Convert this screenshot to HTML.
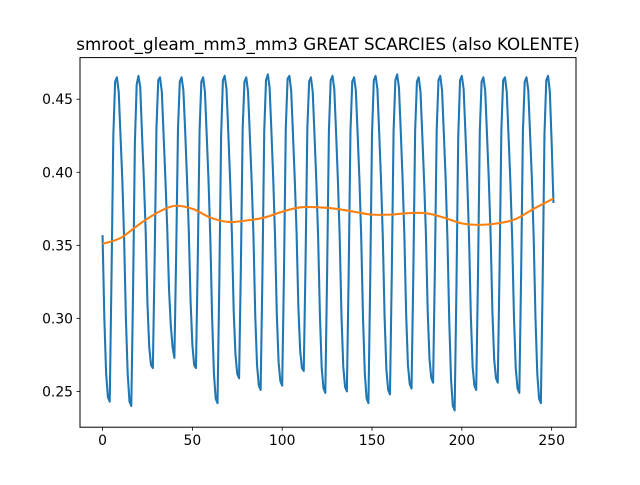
<!DOCTYPE html>
<html><head><meta charset="utf-8"><style>
body{margin:0;background:#fff;}
svg text{font-family:"DejaVu Sans","Liberation Sans",sans-serif;}
</style></head><body>
<svg id="chart" width="640" height="480" viewBox="0 0 640 480">
<rect width="640" height="480" fill="#fff"/>
<text x="328" y="50" font-size="16.7" text-anchor="middle" fill="#000">smroot_gleam_mm3_mm3 GREAT SCARCIES (also KOLENTE)</text>
<g id="plot"></g>
<rect x="80" y="57.6" width="496" height="369.6" fill="none" stroke="#000" stroke-width="1"/>
</svg>
<script>
const blueValues = [
0.357,0.300,0.262,0.246,0.243,0.330,0.425,0.462,0.465,0.455,0.425,0.395,
0.355,0.300,0.262,0.243,0.240,0.320,0.420,0.460,0.466,0.458,0.425,0.395,
0.360,0.310,0.280,0.268,0.266,0.340,0.430,0.463,0.465,0.455,0.425,0.395,
0.362,0.320,0.295,0.280,0.273,0.345,0.430,0.462,0.465,0.456,0.428,0.396,
0.360,0.312,0.282,0.268,0.266,0.340,0.428,0.462,0.465,0.455,0.425,0.394,
0.355,0.300,0.262,0.245,0.242,0.325,0.425,0.463,0.466,0.457,0.427,0.395,
0.358,0.305,0.275,0.262,0.259,0.335,0.430,0.462,0.465,0.455,0.425,0.394,
0.357,0.302,0.268,0.254,0.251,0.330,0.428,0.463,0.467,0.458,0.428,0.396,
0.357,0.303,0.270,0.257,0.254,0.332,0.430,0.464,0.466,0.456,0.426,0.395,
0.359,0.308,0.278,0.266,0.264,0.338,0.430,0.462,0.465,0.455,0.425,0.394,
0.356,0.302,0.266,0.252,0.249,0.330,0.428,0.463,0.466,0.457,0.427,0.395,
0.356,0.302,0.267,0.253,0.250,0.330,0.428,0.462,0.465,0.456,0.426,0.395,
0.355,0.300,0.262,0.245,0.242,0.326,0.426,0.463,0.466,0.457,0.427,0.395,
0.356,0.301,0.265,0.251,0.248,0.330,0.428,0.463,0.467,0.458,0.428,0.396,
0.357,0.303,0.268,0.255,0.252,0.331,0.428,0.462,0.465,0.455,0.425,0.394,
0.358,0.305,0.272,0.259,0.256,0.334,0.429,0.463,0.466,0.456,0.426,0.395,
0.354,0.298,0.258,0.240,0.237,0.322,0.424,0.463,0.466,0.457,0.427,0.395,
0.356,0.302,0.267,0.254,0.251,0.330,0.428,0.462,0.465,0.456,0.426,0.395,
0.358,0.305,0.272,0.259,0.256,0.334,0.429,0.463,0.465,0.455,0.425,0.394,
0.356,0.302,0.266,0.252,0.249,0.330,0.428,0.462,0.465,0.456,0.426,0.395,
0.355,0.300,0.262,0.245,0.242,0.326,0.426,0.463,0.466,0.455,0.420,0.379
];
const trendIdx = [0,10,20,30,40,50,60,70,80,90,100,110,120,130,140,150,160,170,180,190,200,210,220,230,240,251];
const trendValues = [0.351,0.355,0.364,0.372,0.377,0.375,0.369,0.366,0.367,0.369,0.373,0.376,0.376,0.375,0.373,0.371,0.371,0.372,0.372,0.369,0.365,0.364,0.365,0.368,0.375,0.382];
const xTicks = [0,50,100,150,200,250];
const yTicks = [0.25,0.30,0.35,0.40,0.45];
const yTickLabels = ["0.25","0.30","0.35","0.40","0.45"];

const L=80,R=576,T=57.6,B=427.2;
const xmin=-12.55,xmax=263.55,ymin=0.2255,ymax=0.4785;
const sx=v=>L+(v-xmin)/(xmax-xmin)*(R-L);
const sy=v=>B-(v-ymin)/(ymax-ymin)*(B-T);
const NS="http://www.w3.org/2000/svg";
const g=document.getElementById('plot');
function mk(tag,attrs){const e=document.createElementNS(NS,tag);for(const k in attrs)e.setAttribute(k,attrs[k]);g.appendChild(e);return e;}

xTicks.forEach(v=>{
  const l=mk('line',{x1:sx(v),x2:sx(v),y1:B,y2:B+3.5,stroke:'#000','stroke-width':0.8});
  
  
  const t=mk('text',{x:sx(v),y:B+18,'font-size':13.9,'text-anchor':'middle',fill:'#000'});
  t.textContent=String(v);
  
  
});
yTicks.forEach((v,i)=>{
  const l=mk('line',{x1:L-3.5,x2:L,y1:sy(v),y2:sy(v),stroke:'#000','stroke-width':0.8});
  
  
  const t=mk('text',{x:L-7,y:sy(v)+5,'font-size':13.9,'text-anchor':'end',fill:'#000'});
  t.textContent=yTickLabels[i];
  
  
});
const bp=blueValues.map((v,i)=>sx(i).toFixed(2)+','+sy(v).toFixed(2)).join(' ');
const b=mk('polyline',{points:bp,fill:'none',stroke:'#1f77b4','stroke-width':2.08,'stroke-linejoin':'round'});


const op=trendValues.map((v,i)=>[sx(trendIdx[i]),sy(v)]);
let d='M'+op[0][0]+','+op[0][1];
for(let i=0;i<op.length-1;i++){
  const p0=op[Math.max(0,i-1)],p1=op[i],p2=op[i+1],p3=op[Math.min(op.length-1,i+2)];
  d+=' C'+(p1[0]+(p2[0]-p0[0])/6)+','+(p1[1]+(p2[1]-p0[1])/6)+' '+(p2[0]-(p3[0]-p1[0])/6)+','+(p2[1]-(p3[1]-p1[1])/6)+' '+p2[0]+','+p2[1];
}
const o=mk('path',{d:d,fill:'none',stroke:'#ff7f0e','stroke-width':2.08});


</script>
</body></html>
